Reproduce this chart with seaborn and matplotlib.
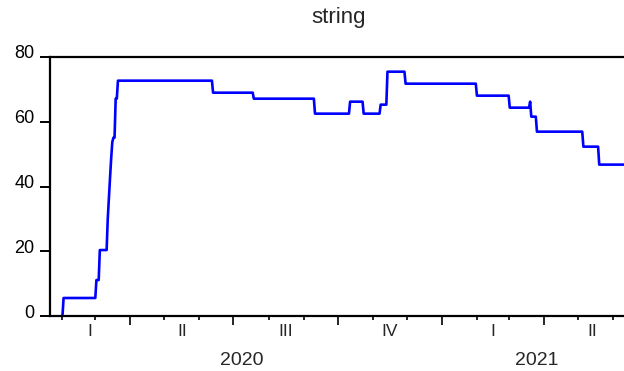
import pandas as pd
import numpy as np
import matplotlib
matplotlib.use("Agg")
import matplotlib.pyplot as plt
import matplotlib.dates as mdates
import matplotlib.transforms as mtransforms
import seaborn as sns

# step changes of the index (date the new level starts, level)
change_dates = ["2020-02-01", "2020-02-02", "2020-03-02", "2020-03-05", "2020-03-12",
                "2020-03-13", "2020-03-14", "2020-03-15", "2020-03-16", "2020-03-17",
                "2020-03-19", "2020-03-21", "2020-06-13", "2020-07-19", "2020-09-11",
                "2020-10-12", "2020-10-24", "2020-11-08", "2020-11-14", "2020-11-30",
                "2021-02-01", "2021-03-02", "2021-03-20", "2021-03-21", "2021-03-26",
                "2021-05-06", "2021-05-20"]
change_levels = [0.0, 5.56, 11.11, 20.37, 30.09,
                 36.5, 42.6, 48.6, 53.7, 55.09,
                 67.13, 72.69, 68.98, 67.13, 62.5,
                 66.2, 62.5, 65.28, 75.46, 71.76,
                 68.06, 64.35, 66.2, 61.57, 56.94,
                 52.31, 46.76]
last_day = "2021-06-25"

quarter_names = ["I", "II", "III", "IV"]
years = [2020, 2021]
y_ticks = [0, 20, 40, 60, 80]
title = "string"

days = pd.date_range(change_dates[0], last_day, freq="D")
steps = pd.Series(change_levels, index=pd.to_datetime(change_dates))
df = pd.DataFrame({"date": days, "value": steps.reindex(days).ffill().values})

sns.set_style("ticks")
plt.rcParams["font.family"] = ["Liberation Sans", "DejaVu Sans"]

fig = plt.figure(figsize=(6.24, 3.71), dpi=100)
ax = fig.add_axes([50 / 624, 1 - 316 / 371, 590 / 624, 259 / 371])

sns.lineplot(data=df, x="date", y="value", color="#0000ff", linewidth=1.9, ax=ax)

xmin = pd.Timestamp("2020-01-21")
xmax = pd.Timestamp(last_day)
ax.set_xlim(xmin, xmax)
ax.set_ylim(0, 80)
ax.set_xlabel("")
ax.set_ylabel("")

for side in ["left", "bottom", "top", "right"]:
    ax.spines[side].set_linewidth(1.6)
    ax.spines[side].set_color("black")
    ax.spines[side].set_zorder(5)

ax.set_yticks(y_ticks)
ax.tick_params(axis="y", direction="out", length=7.5, width=1.4, pad=3.5, labelsize=13,
               colors="black")
offset = mtransforms.ScaledTranslation(0, 5 / 100, fig.dpi_scale_trans)
for lab in ax.get_yticklabels():
    lab.set_transform(lab.get_transform() + offset)

ax.xaxis.set_major_locator(mdates.MonthLocator(bymonth=[1, 4, 7, 10]))
ax.xaxis.set_minor_locator(mdates.MonthLocator())
ax.xaxis.set_major_formatter(plt.NullFormatter())
ax.tick_params(axis="x", which="major", direction="out", length=6.5, width=1.4)
ax.tick_params(axis="x", which="minor", direction="out", length=3.2, width=1.4)

# quarter and year labels centred on the visible part of each period
trans = ax.get_xaxis_transform()
for yr in years:
    for q in range(4):
        qs = pd.Timestamp(yr, 3 * q + 1, 1)
        qe = qs + pd.DateOffset(months=3)
        lo, hi = max(qs, xmin), min(qe, xmax)
        if lo >= hi:
            continue
        mid = lo + (hi - lo) / 2
        ax.text(mdates.date2num(mid), -0.058, quarter_names[q], transform=trans,
                ha="center", va="center", fontsize=12.5)
    ys, ye = max(pd.Timestamp(yr, 1, 1), xmin), min(pd.Timestamp(yr + 1, 1, 1), xmax)
    mid = ys + (ye - ys) / 2
    ax.text(mdates.date2num(mid) - 4, -0.17, str(yr), transform=trans,
            ha="center", va="center", fontsize=14)

fig.text(339 / 624, 1 - 18 / 371, title, ha="center", va="center", fontsize=16)

fig.savefig("out.png", dpi=100)
